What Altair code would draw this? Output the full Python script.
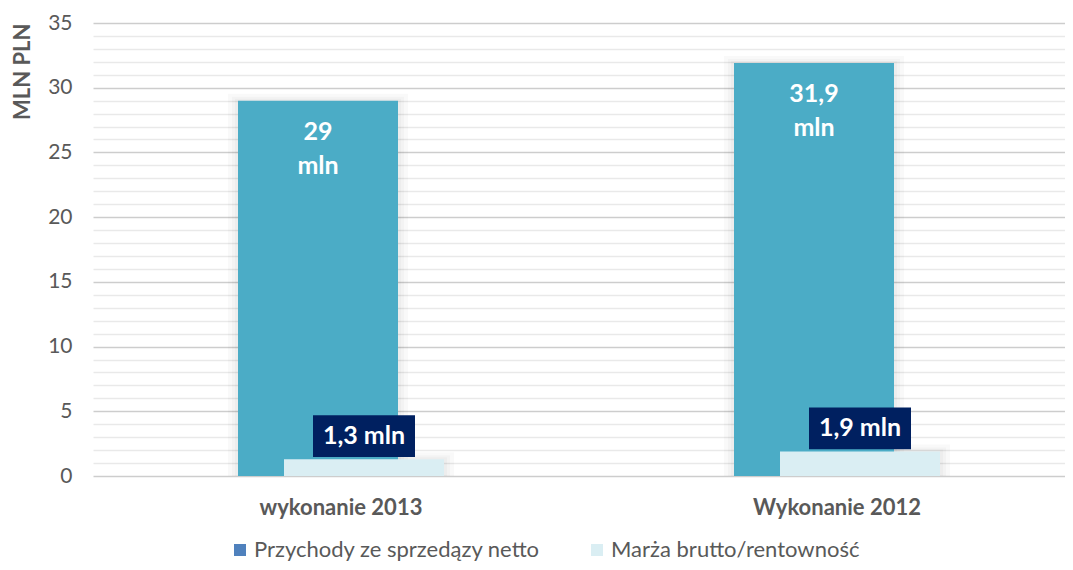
import altair as alt
import pandas as pd

categories = ["wykonanie 2013", "Wykonanie 2012"]
series_names = ["Przychody ze sprzedązy netto", "Marża brutto/rentowność"]
przychody = [29, 31.9]
marza = [1.3, 1.9]
przychody_labels = ["29\nmln", "31,9\nmln"]
marza_labels = ["1,3 mln", "1,9 mln"]
y_ticks = list(range(0, 36))

rows = []
for i, c in enumerate(categories):
    rows.append({"cat": c, "series": series_names[0], "value": przychody[i], "label": przychody_labels[i]})
    rows.append({"cat": c, "series": series_names[1], "value": marza[i], "label": marza_labels[i]})
df = pd.DataFrame(rows)

FONT = "Lato"
GREY = "#595959"
BAR_MAIN = "#4BACC6"
BAR_LIGHT = "#DAEEF3"
LEGEND_MAIN = "#4F81BD"
BOX = "#002060"

x_enc = alt.X(
    "cat:N",
    sort=categories,
    scale=alt.Scale(paddingInner=0, paddingOuter=0, range=[0, 992]),
    axis=alt.Axis(
        title=None, labelAngle=0, ticks=False, domain=False, grid=False,
        labelFont=FONT, labelFontSize=22, labelFontWeight="bold",
        labelColor=GREY, labelPadding=21,
    ),
)
y_enc = alt.Y(
    "value:Q",
    stack=None,
    scale=alt.Scale(domain=[0, 35], nice=False, zero=True),
    axis=alt.Axis(
        title="MLN PLN", values=y_ticks, ticks=False, domain=False, grid=True,
        labelOverlap=False,
        labelExpr="datum.value % 5 === 0 ? datum.label : ''",
        labelFont=FONT, labelFontSize=21, labelColor=GREY, labelPadding=21,
        gridColor=alt.condition("datum.value % 5 === 0", alt.value("#cdcdcd"), alt.value("#e9e9e9")),
        gridWidth=1.5,
        titleFont=FONT, titleFontSize=22, titleFontWeight="bold", titleColor=GREY,
        titleAngle=-90, titleAlign="right", titleBaseline="middle",
        titleX=-71, titleY=0,
    ),
)

base = alt.Chart(df)
is_main = alt.datum.series == series_names[0]
is_marza = alt.datum.series == series_names[1]

shadow_layers = []
for flt, xo in [(is_main, -23), (is_marza, 23)]:
    for w, yo in [(180, -7), (172, -4), (166, -2)]:
        shadow_layers.append(
            base.transform_filter(flt).mark_bar(
                width=w, xOffset=xo, yOffset=yo, y2Offset=0,
                color="#000000", opacity=0.025,
            ).encode(x=x_enc, y=y_enc)
        )

main = base.transform_filter(is_main).mark_bar(
    width=160, xOffset=-23, color=BAR_MAIN
).encode(x=x_enc, y=y_enc)

light = base.transform_filter(is_marza).mark_bar(
    width=160, xOffset=23, color=BAR_LIGHT
).encode(x=x_enc, y=y_enc)

legend_layer = base.mark_square(opacity=0).encode(
    x=x_enc,
    y=y_enc,
    color=alt.Color(
        "series:N",
        scale=alt.Scale(domain=series_names, range=[LEGEND_MAIN, BAR_LIGHT]),
        legend=alt.Legend(
            title=None, orient="none", direction="horizontal",
            legendX=136, legendY=516,
            symbolType="square", symbolSize=144, symbolStrokeWidth=0,
            symbolOpacity=1, labelLimit=500,
            labelFont=FONT, labelFontSize=22, labelColor=GREY,
            labelOffset=3, columnPadding=45,
        ),
    ),
)

main_text = base.transform_filter(is_main).mark_text(
    xOffset=-23, dy=19, baseline="top", align="center", lineBreak="\n", lineHeight=34,
    font=FONT, fontSize=25, fontWeight="bold", color="white",
).encode(x=x_enc, y=y_enc, text="label:N")

box = base.transform_filter(is_marza).mark_point(
    shape="M-1,-0.41H1V0.41H-1Z", size=102 * 102, filled=True, opacity=1,
    color=BOX, xOffset=23, yOffset=-23, strokeWidth=0,
).encode(x=x_enc, y=y_enc)

box_text = base.transform_filter(is_marza).mark_text(
    xOffset=23, yOffset=-23, baseline="middle", align="center",
    font=FONT, fontSize=25, fontWeight="bold", color="white",
).encode(x=x_enc, y=y_enc, text="label:N")

chart = alt.layer(*shadow_layers, main, light, legend_layer, main_text, box, box_text).properties(
    width=972, height=453,
    autosize=alt.AutoSizeParams(type="none"),
    padding={"left": 85, "top": 15, "right": 0, "bottom": 86},
).configure(background="white").configure_view(stroke=None)

chart.save("out.html", embed_options={"renderer": "svg", "actions": False})
